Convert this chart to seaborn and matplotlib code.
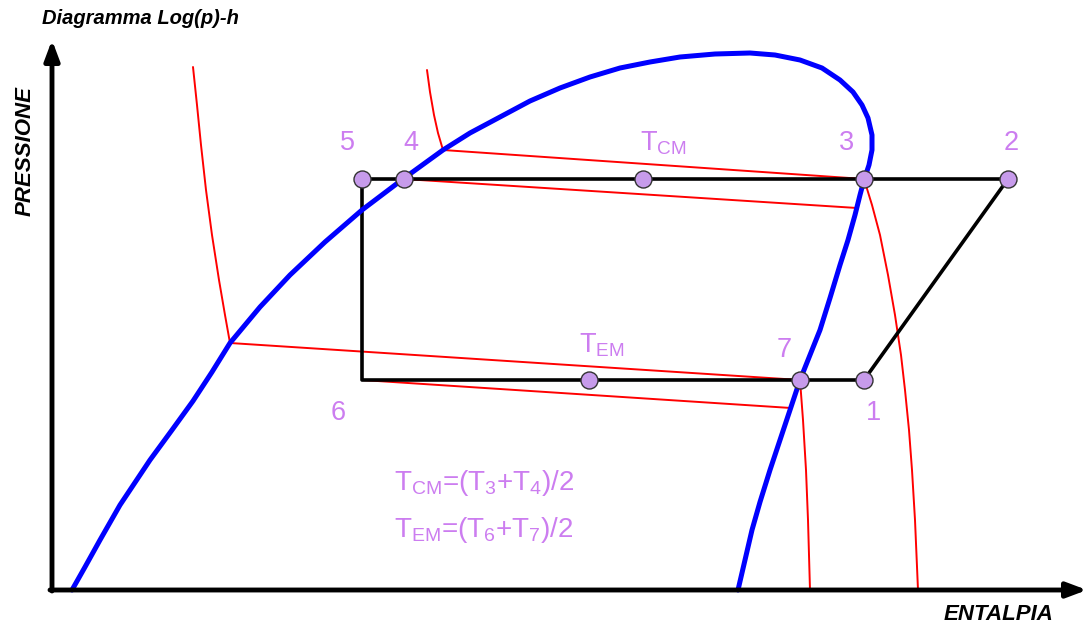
import matplotlib
matplotlib.use("Agg")
import matplotlib.pyplot as plt
import seaborn as sns
import pandas as pd

sns.set_style("white")
plt.rcParams['font.family'] = ['Liberation Sans', 'DejaVu Sans']
plt.rcParams['mathtext.default'] = 'regular'

# schematic coordinates (canvas units, y downwards)
dome_h = [72, 85, 100, 120, 150, 172, 193, 212, 230, 260, 290, 325, 362, 403, 443, 470, 500, 530, 560,
          590, 620, 650, 680, 715, 750, 775, 800, 822, 840, 853, 862, 868, 872, 872, 869, 864, 860, 855,
          848, 840, 830, 820, 810, 800, 790, 780, 770, 760, 752, 745, 738]
dome_p = [590, 567, 540, 505, 460, 430, 401, 372, 343, 307, 275, 242, 210, 179, 150, 133, 117, 101, 88,
          77, 68, 62, 57, 54, 53, 55, 60, 68, 80, 92, 105, 118, 135, 150, 165, 180, 195, 215,
          240, 265, 298, 330, 355, 380, 410, 440, 470, 502, 530, 560, 590]

cycle_h = [362, 404, 643, 864, 1008, 864, 800, 589, 362, 362]
cycle_p = [179, 179, 179, 179, 179, 380, 380, 380, 380, 179]

iso_cm_h = [427, 430, 434, 438, 443, 864, 872, 880, 888, 895, 901, 905, 909, 912, 915, 918]
iso_cm_p = [70, 92, 115, 133, 150, 179, 205, 235, 275, 315, 355, 390, 430, 470, 520, 590]
iso_cm2_h = [404, 857]
iso_cm2_p = [179, 208]

iso_em_h = [193, 197, 201, 206, 212, 219, 225, 230, 800, 803, 806, 808, 810]
iso_em_p = [67, 105, 145, 190, 235, 280, 315, 343, 380, 420, 470, 520, 590]
iso_em2_h = [362, 791]
iso_em2_p = [380, 408]

pt_h = [362, 404, 643, 864, 1008, 864, 800, 589]
pt_p = [179, 179, 179, 179, 179, 380, 380, 380]

labels = ["5", "4", r"T$_{CM}$", "3", "2", "7", r"T$_{EM}$", "6", "1"]
label_h = [347, 411, 663, 847, 1011, 784, 602, 338, 873]
label_p = [143, 143, 143, 143, 143, 350, 345, 413, 413]

formulas = [r"T$_{CM}$=(T$_3$+T$_4$)/2", r"T$_{EM}$=(T$_6$+T$_7$)/2"]
formula_h = [394, 394]
formula_p = [483, 530]

purple = "#CC7DF0"
marker_fill = "#C79BEB"

fig = plt.figure(figsize=(10.88, 6.26), dpi=100)
ax = fig.add_axes([0, 0, 1, 1])


def line(h, p, color, lw):
    df = pd.DataFrame({"h": h, "p": p})
    sns.lineplot(data=df, x="h", y="p", sort=False, estimator=None, color=color,
                 linewidth=lw, ax=ax, solid_capstyle="round", solid_joinstyle="round")


# axes arrows
ax.annotate("", xy=(52, 40), xytext=(52, 591),
            arrowprops=dict(arrowstyle="-|>,head_length=1.2,head_width=0.45", lw=3.5, color="black",
                            shrinkA=0, shrinkB=0))
ax.annotate("", xy=(1087, 590), xytext=(50, 590),
            arrowprops=dict(arrowstyle="-|>,head_length=1.2,head_width=0.45", lw=3.5, color="black",
                            shrinkA=0, shrinkB=0))

line(iso_cm_h, iso_cm_p, "red", 1.4)
line(iso_cm2_h, iso_cm2_p, "red", 1.4)
line(iso_em_h, iso_em_p, "red", 1.4)
line(iso_em2_h, iso_em2_p, "red", 1.4)
line(cycle_h, cycle_p, "black", 2.6)
line(dome_h, dome_p, "#0000FF", 3.6)

pts = pd.DataFrame({"h": pt_h, "p": pt_p})
sns.scatterplot(data=pts, x="h", y="p", s=150, color=marker_fill, edgecolor="#333333",
                linewidth=1.0, ax=ax, zorder=5)
ax.set_xlim(0, 1088)
ax.set_ylim(626, 0)
ax.axis("off")

for t, x, y in zip(labels, label_h, label_p):
    ax.text(x, y, t, color=purple, fontsize=19.5, ha="center", va="center")
for t, x, y in zip(formulas, formula_h, formula_p):
    ax.text(x, y, t, color=purple, fontsize=20, ha="left", va="center")

ax.text(42, 18, "Diagramma Log(p)-h", fontsize=14.5, fontweight="bold", fontstyle="italic",
        ha="left", va="center", color="black")
ax.text(25, 151, "PRESSIONE", fontsize=16, fontweight="bold", fontstyle="italic",
        rotation=90, ha="center", va="center", color="black")
ax.text(999, 614, "ENTALPIA", fontsize=16, fontweight="bold", fontstyle="italic",
        ha="center", va="center", color="black")

fig.savefig("out.png", dpi=100)
